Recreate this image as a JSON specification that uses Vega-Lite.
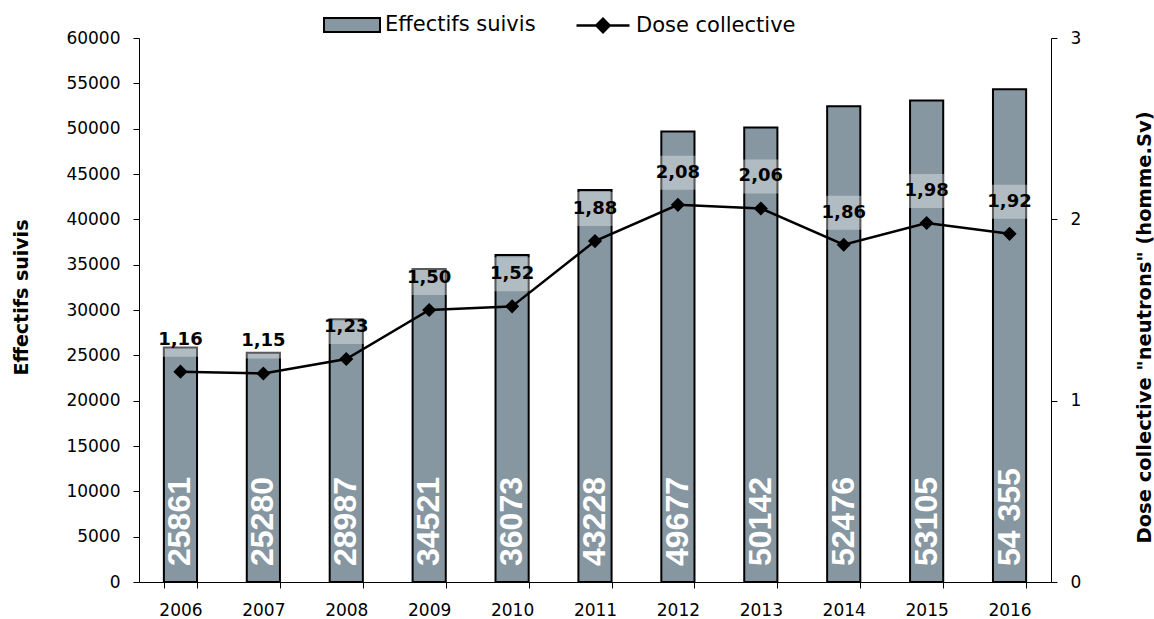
{
  "$schema": "https://vega.github.io/schema/vega-lite/v6.json",
  "width": 912,
  "height": 544,
  "autosize": {"type": "none"},
  "padding": {"left": 139, "top": 38, "right": 103, "bottom": 37},
  "background": "white",
  "config": {
    "view": {"stroke": null},
    "font": "DejaVu Sans",
    "axis": {
      "domainColor": "black",
      "tickColor": "black",
      "labelColor": "black",
      "titleColor": "black",
      "labelFont": "DejaVu Sans",
      "labelFontSize": 17,
      "tickSize": 6,
      "grid": false
    }
  },
  "data": {
    "values": [
      {"year": "2006", "eff": 25861, "eff_label": "25861", "dose": 1.16, "dose_label": "1,16"},
      {"year": "2007", "eff": 25280, "eff_label": "25280", "dose": 1.15, "dose_label": "1,15"},
      {"year": "2008", "eff": 28987, "eff_label": "28987", "dose": 1.23, "dose_label": "1,23"},
      {"year": "2009", "eff": 34521, "eff_label": "34521", "dose": 1.50, "dose_label": "1,50"},
      {"year": "2010", "eff": 36073, "eff_label": "36073", "dose": 1.52, "dose_label": "1,52"},
      {"year": "2011", "eff": 43228, "eff_label": "43228", "dose": 1.88, "dose_label": "1,88"},
      {"year": "2012", "eff": 49677, "eff_label": "49677", "dose": 2.08, "dose_label": "2,08"},
      {"year": "2013", "eff": 50142, "eff_label": "50142", "dose": 2.06, "dose_label": "2,06"},
      {"year": "2014", "eff": 52476, "eff_label": "52476", "dose": 1.86, "dose_label": "1,86"},
      {"year": "2015", "eff": 53105, "eff_label": "53105", "dose": 1.98, "dose_label": "1,98"},
      {"year": "2016", "eff": 54355, "eff_label": "54 355", "dose": 1.92, "dose_label": "1,92"}
    ]
  },
  "encoding": {
    "x": {
      "field": "year",
      "type": "ordinal",
      "scale": {"paddingInner": 0.6, "paddingOuter": 0.3},
      "axis": {"title": null, "labelAngle": 0, "tickBand": "extent", "labelPadding": 14}
    }
  },
  "layer": [
    {
      "encoding": {
        "y": {
          "type": "quantitative",
          "scale": {"domain": [0, 60000]},
          "axis": {
            "title": "Effectifs suivis",
            "values": [0, 5000, 10000, 15000, 20000, 25000, 30000, 35000, 40000, 45000, 50000, 55000, 60000],
            "format": "d",
            "labelPadding": 13,
            "labelFlush": false,
            "labelOverlap": false,
            "titleFont": "DejaVu Sans",
            "titleFontWeight": "bold",
            "titleFontSize": 19,
            "titleAngle": 270,
            "titleX": -112,
            "titleY": 259,
            "titleBaseline": "alphabetic",
            "titleAlign": "center"
          }
        }
      },
      "layer": [
        {
          "mark": {"type": "bar", "stroke": "black", "strokeWidth": 2},
          "encoding": {
            "y": {"field": "eff"},
            "fill": {
              "datum": "Effectifs suivis",
              "scale": {"range": ["#8797a1"]},
              "legend": {
                "title": null,
                "orient": "none",
                "legendX": 184,
                "legendY": -42,
                "padding": 0,
                "symbolType": "M-1,-0.25H1V0.25H-1Z",
                "symbolSize": 3136,
                "symbolStrokeColor": "black",
                "symbolStrokeWidth": 2,
                "labelFont": "DejaVu Sans",
                "labelFontSize": 21,
                "labelColor": "black",
                "labelOffset": 4,
                "labelLimit": 400,
                "encode": {"symbols": {"update": {"stroke": {"value": "black"}, "strokeWidth": {"value": 2}}}}
              }
            }
          }
        },
        {
          "mark": {"type": "text", "angle": 270, "align": "left", "baseline": "middle", "dx": 16, "color": "white", "font": "Liberation Sans", "fontWeight": "bold", "fontSize": 32},
          "encoding": {
            "y": {"datum": 0},
            "text": {"field": "eff_label"}
          }
        }
      ]
    },
    {
      "encoding": {
        "y": {
          "field": "dose",
          "type": "quantitative",
          "scale": {"domain": [0, 3]},
          "axis": {
            "orient": "right",
            "title": "Dose collective \"neutrons\" (homme.Sv)",
            "values": [0, 1, 2, 3],
            "format": "d",
            "labelPadding": 13,
            "labelFlush": false,
            "titleFont": "DejaVu Sans",
            "titleFontWeight": "bold",
            "titleFontSize": 19.5,
            "titleAngle": 270,
            "titleX": 99,
            "titleY": 289,
            "titleBaseline": "alphabetic",
            "titleAlign": "center"
          }
        }
      },
      "layer": [
        {
          "mark": {"type": "point", "shape": "M-1.05,-1H1.05V1H-1.05Z", "size": 1156, "filled": true, "fill": "white", "fillOpacity": 0.35, "opacity": 1, "strokeWidth": 0, "yOffset": -32}
        },
        {
          "mark": {"type": "line", "strokeWidth": 2.5},
          "encoding": {
            "stroke": {
              "datum": "Dose collective",
              "scale": {"range": ["black"]},
              "legend": {
                "title": null,
                "orient": "none",
                "legendX": 436,
                "legendY": -40.5,
                "padding": 0,
                "symbolType": "M-1,0H1M-0.25,0L0,-0.25L0.25,0L0,0.25Z",
                "symbolSize": 2809,
                "symbolStrokeWidth": 2.5,
                "labelFont": "DejaVu Sans",
                "labelFontSize": 21,
                "labelColor": "black",
                "labelOffset": 5,
                "labelLimit": 400,
                "encode": {"symbols": {"update": {"fill": {"value": "black"}, "stroke": {"value": "black"}, "strokeWidth": {"value": 2.5}}}}
              }
            }
          }
        },
        {
          "mark": {"type": "point", "shape": "diamond", "size": 200, "filled": true, "color": "black", "opacity": 1}
        },
        {
          "mark": {"type": "text", "dy": -32, "baseline": "middle", "align": "center", "font": "DejaVu Sans", "fontWeight": "bold", "fontSize": 18, "color": "black"},
          "encoding": {"text": {"field": "dose_label"}}
        }
      ]
    }
  ],
  "resolve": {"scale": {"y": "independent"}}
}
